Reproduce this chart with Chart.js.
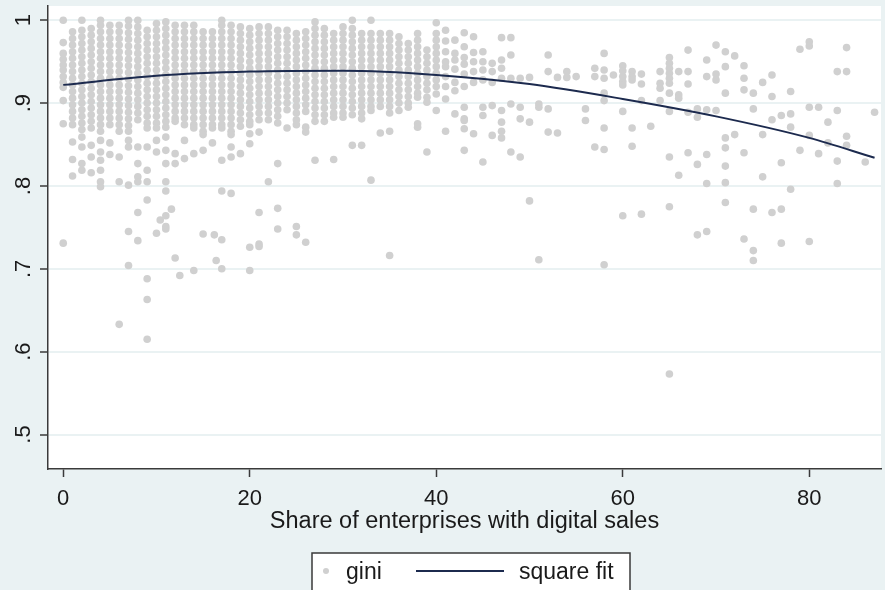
<!DOCTYPE html>
<html>
<head>
<meta charset="utf-8">
<script src="https://cdn.jsdelivr.net/npm/chart.js@4.4.1/dist/chart.umd.min.js"></script>
<style>
  html, body { margin: 0; padding: 0; background: #EAF2F3; }
  #chart { display: block; }
</style>
</head>
<body>
<canvas id="chart" width="885" height="590"></canvas>
<script>
// gini observations, grouped by share of enterprises with digital sales: [x, [gini...]]
const giniColumns = [
    [0, [1.0, 0.973, 0.960, 0.953, 0.946, 0.940, 0.932, 0.925, 0.919, 0.903, 0.875, 0.731]],
    [1, [0.986, 0.978, 0.970, 0.962, 0.954, 0.946, 0.938, 0.930, 0.922, 0.914, 0.906, 0.898, 0.890, 0.882, 0.874, 0.853, 0.832, 0.812]],
    [2, [1.0, 0.988, 0.980, 0.972, 0.964, 0.956, 0.948, 0.940, 0.932, 0.924, 0.916, 0.908, 0.900, 0.892, 0.884, 0.876, 0.868, 0.859, 0.847, 0.827, 0.819]],
    [3, [0.990, 0.982, 0.974, 0.966, 0.958, 0.950, 0.942, 0.934, 0.926, 0.918, 0.910, 0.902, 0.894, 0.886, 0.878, 0.870, 0.849, 0.835, 0.816]],
    [4, [1.0, 0.994, 0.986, 0.978, 0.970, 0.962, 0.954, 0.946, 0.938, 0.930, 0.922, 0.914, 0.906, 0.898, 0.890, 0.882, 0.874, 0.866, 0.855, 0.841, 0.831, 0.819, 0.805, 0.799]],
    [5, [0.994, 0.986, 0.978, 0.970, 0.962, 0.954, 0.946, 0.938, 0.930, 0.922, 0.914, 0.906, 0.898, 0.890, 0.882, 0.874, 0.852, 0.838]],
    [6, [0.994, 0.986, 0.978, 0.970, 0.962, 0.954, 0.946, 0.938, 0.930, 0.922, 0.914, 0.906, 0.898, 0.890, 0.882, 0.874, 0.866, 0.835, 0.805, 0.633]],
    [7, [1.0, 0.993, 0.985, 0.977, 0.969, 0.961, 0.953, 0.945, 0.937, 0.929, 0.921, 0.913, 0.905, 0.897, 0.889, 0.881, 0.873, 0.866, 0.855, 0.847, 0.801, 0.745, 0.704]],
    [8, [1.0, 0.992, 0.984, 0.976, 0.968, 0.960, 0.952, 0.944, 0.936, 0.928, 0.920, 0.912, 0.904, 0.896, 0.888, 0.880, 0.847, 0.827, 0.811, 0.805, 0.768, 0.734]],
    [9, [0.988, 0.980, 0.972, 0.964, 0.956, 0.948, 0.940, 0.932, 0.924, 0.916, 0.908, 0.900, 0.892, 0.884, 0.876, 0.870, 0.847, 0.819, 0.805, 0.783, 0.688, 0.663, 0.615]],
    [10, [0.996, 0.988, 0.980, 0.972, 0.964, 0.956, 0.948, 0.940, 0.932, 0.924, 0.916, 0.908, 0.900, 0.892, 0.884, 0.876, 0.870, 0.855, 0.841, 0.743]],
    [10.4, [0.759]],
    [11, [0.998, 0.990, 0.982, 0.974, 0.966, 0.958, 0.950, 0.942, 0.934, 0.926, 0.918, 0.910, 0.902, 0.894, 0.886, 0.878, 0.871, 0.859, 0.843, 0.827, 0.805, 0.794, 0.764, 0.751, 0.748]],
    [11.6, [0.772]],
    [12, [0.994, 0.986, 0.978, 0.970, 0.962, 0.954, 0.946, 0.938, 0.930, 0.922, 0.914, 0.906, 0.898, 0.890, 0.882, 0.878, 0.839, 0.827, 0.713]],
    [12.5, [0.692]],
    [13, [0.994, 0.986, 0.978, 0.970, 0.962, 0.954, 0.946, 0.938, 0.930, 0.922, 0.914, 0.906, 0.898, 0.890, 0.882, 0.874, 0.855, 0.833]],
    [14, [0.994, 0.986, 0.978, 0.970, 0.962, 0.954, 0.946, 0.938, 0.930, 0.922, 0.914, 0.906, 0.898, 0.890, 0.882, 0.874, 0.870, 0.839, 0.698]],
    [15, [0.986, 0.978, 0.970, 0.962, 0.954, 0.946, 0.938, 0.930, 0.922, 0.914, 0.906, 0.898, 0.890, 0.882, 0.874, 0.866, 0.862, 0.843, 0.742]],
    [16, [0.986, 0.978, 0.970, 0.962, 0.954, 0.946, 0.938, 0.930, 0.922, 0.914, 0.906, 0.898, 0.890, 0.882, 0.874, 0.870, 0.852]],
    [16.2, [0.741]],
    [16.4, [0.710]],
    [17, [1.0, 0.994, 0.986, 0.978, 0.970, 0.962, 0.954, 0.946, 0.938, 0.930, 0.922, 0.914, 0.906, 0.898, 0.890, 0.882, 0.874, 0.870, 0.831, 0.794, 0.735, 0.700]],
    [18, [0.994, 0.986, 0.978, 0.970, 0.962, 0.954, 0.946, 0.938, 0.930, 0.922, 0.914, 0.906, 0.898, 0.890, 0.882, 0.874, 0.866, 0.862, 0.847, 0.835, 0.791]],
    [19, [0.992, 0.984, 0.976, 0.968, 0.960, 0.952, 0.944, 0.936, 0.928, 0.920, 0.912, 0.904, 0.896, 0.888, 0.880, 0.872, 0.839]],
    [20, [0.990, 0.982, 0.974, 0.966, 0.958, 0.950, 0.942, 0.934, 0.926, 0.918, 0.910, 0.902, 0.894, 0.886, 0.878, 0.874, 0.863, 0.851, 0.726, 0.698]],
    [21, [0.992, 0.984, 0.976, 0.968, 0.960, 0.952, 0.944, 0.936, 0.928, 0.920, 0.912, 0.904, 0.896, 0.888, 0.880, 0.865, 0.768, 0.730, 0.727]],
    [22, [0.992, 0.984, 0.976, 0.968, 0.960, 0.952, 0.944, 0.936, 0.928, 0.920, 0.912, 0.904, 0.896, 0.888, 0.880, 0.805]],
    [23, [0.988, 0.980, 0.972, 0.964, 0.956, 0.948, 0.940, 0.932, 0.924, 0.916, 0.908, 0.900, 0.892, 0.884, 0.876, 0.827, 0.773, 0.748]],
    [24, [0.988, 0.980, 0.972, 0.964, 0.956, 0.948, 0.940, 0.932, 0.924, 0.916, 0.908, 0.900, 0.892, 0.870]],
    [25, [0.984, 0.976, 0.968, 0.960, 0.952, 0.944, 0.936, 0.928, 0.920, 0.912, 0.904, 0.896, 0.888, 0.880, 0.874, 0.751, 0.741]],
    [26, [0.986, 0.978, 0.970, 0.962, 0.954, 0.946, 0.938, 0.930, 0.922, 0.914, 0.906, 0.898, 0.890, 0.871, 0.865, 0.732]],
    [27, [0.998, 0.990, 0.982, 0.974, 0.966, 0.958, 0.950, 0.942, 0.934, 0.926, 0.918, 0.910, 0.902, 0.894, 0.886, 0.878, 0.831]],
    [28, [0.990, 0.982, 0.974, 0.966, 0.958, 0.950, 0.942, 0.934, 0.926, 0.918, 0.910, 0.902, 0.894, 0.886, 0.878]],
    [29, [0.984, 0.976, 0.968, 0.960, 0.952, 0.944, 0.936, 0.928, 0.920, 0.912, 0.904, 0.896, 0.888, 0.883, 0.832]],
    [30, [0.992, 0.984, 0.976, 0.968, 0.960, 0.952, 0.944, 0.936, 0.928, 0.920, 0.912, 0.904, 0.896, 0.888, 0.883]],
    [31, [1.0, 0.990, 0.982, 0.974, 0.966, 0.958, 0.950, 0.942, 0.934, 0.926, 0.918, 0.910, 0.902, 0.894, 0.886, 0.849]],
    [32, [0.984, 0.976, 0.968, 0.960, 0.952, 0.944, 0.936, 0.928, 0.920, 0.912, 0.904, 0.896, 0.888, 0.881, 0.849]],
    [33, [1.0, 0.984, 0.976, 0.968, 0.960, 0.952, 0.944, 0.936, 0.928, 0.920, 0.912, 0.904, 0.896, 0.891, 0.807]],
    [34, [0.984, 0.976, 0.968, 0.960, 0.952, 0.944, 0.936, 0.928, 0.920, 0.912, 0.904, 0.896, 0.864]],
    [35, [0.984, 0.976, 0.968, 0.960, 0.952, 0.944, 0.936, 0.928, 0.920, 0.912, 0.904, 0.896, 0.888, 0.866, 0.716]],
    [36, [0.980, 0.972, 0.964, 0.956, 0.948, 0.940, 0.932, 0.924, 0.916, 0.908, 0.900, 0.891]],
    [37, [0.972, 0.964, 0.956, 0.948, 0.940, 0.932, 0.924, 0.916, 0.908, 0.900, 0.895]],
    [38, [0.984, 0.976, 0.968, 0.960, 0.952, 0.944, 0.936, 0.928, 0.920, 0.912, 0.907, 0.875, 0.871]],
    [39, [0.964, 0.956, 0.948, 0.940, 0.932, 0.924, 0.916, 0.907, 0.901, 0.841]],
    [40, [0.997, 0.984, 0.976, 0.968, 0.960, 0.952, 0.944, 0.936, 0.928, 0.920, 0.911, 0.891]],
    [41, [0.988, 0.975, 0.962, 0.950, 0.944, 0.932, 0.920, 0.905, 0.866]],
    [42, [0.976, 0.960, 0.952, 0.941, 0.925, 0.915, 0.887]],
    [43, [0.985, 0.968, 0.955, 0.947, 0.935, 0.920, 0.895, 0.881, 0.879, 0.869, 0.843]],
    [44, [0.980, 0.961, 0.950, 0.938, 0.925, 0.863]],
    [45, [0.962, 0.950, 0.940, 0.928, 0.895, 0.885, 0.829]],
    [46, [0.948, 0.938, 0.925, 0.897, 0.861]],
    [47, [0.979, 0.952, 0.942, 0.930, 0.891, 0.877, 0.866, 0.858]],
    [48, [0.979, 0.958, 0.930, 0.899, 0.841]],
    [49, [0.930, 0.895, 0.881, 0.835]],
    [50, [0.931, 0.877, 0.782]],
    [51, [0.899, 0.895, 0.711]],
    [52, [0.958, 0.938, 0.893, 0.865]],
    [53, [0.931, 0.864]],
    [54, [0.938, 0.931]],
    [55, [0.932]],
    [56, [0.893, 0.879]],
    [57, [0.942, 0.932, 0.847]],
    [58, [0.960, 0.940, 0.930, 0.912, 0.903, 0.870, 0.844, 0.705]],
    [59, [0.934]],
    [60, [0.945, 0.939, 0.932, 0.926, 0.922, 0.890, 0.764]],
    [61, [0.938, 0.932, 0.928, 0.870, 0.848]],
    [62, [0.935, 0.923, 0.903, 0.766]],
    [63, [0.872]],
    [64, [0.938, 0.924, 0.918, 0.903]],
    [65, [0.955, 0.948, 0.942, 0.936, 0.930, 0.924, 0.912, 0.890, 0.835, 0.775, 0.573]],
    [66, [0.938, 0.910, 0.906, 0.813]],
    [67, [0.964, 0.938, 0.923, 0.889, 0.840]],
    [68, [0.893, 0.883, 0.826, 0.741]],
    [69, [0.952, 0.932, 0.892, 0.838, 0.803, 0.745]],
    [70, [0.970, 0.935, 0.928, 0.891]],
    [71, [0.962, 0.944, 0.912, 0.858, 0.846, 0.824, 0.804, 0.780]],
    [72, [0.957, 0.862]],
    [73, [0.945, 0.930, 0.916, 0.840, 0.736]],
    [74, [0.912, 0.893, 0.772, 0.722, 0.710]],
    [75, [0.925, 0.862, 0.811]],
    [76, [0.934, 0.908, 0.880, 0.768]],
    [77, [0.885, 0.828, 0.772, 0.731]],
    [78, [0.914, 0.887, 0.871, 0.796]],
    [79, [0.965, 0.843]],
    [80, [0.974, 0.969, 0.895, 0.861, 0.733]],
    [81, [0.895, 0.839]],
    [82, [0.877, 0.852]],
    [83, [0.938, 0.891, 0.830, 0.803]],
    [84, [0.967, 0.938, 0.860, 0.849]],
    [86, [0.829]],
    [87, [0.889]]
];

// quadratic fit
const fitX = [0, 10, 20, 30, 40, 50, 60, 70, 80, 87];
const fitY = [0.922, 0.933, 0.938, 0.939, 0.934, 0.923, 0.905, 0.884, 0.858, 0.834];

const xTicks = [0, 20, 40, 60, 80];
const yTicks = [0.5, 0.6, 0.7, 0.8, 0.9, 1];
const yTickLabels = ['.5', '.6', '.7', '.8', '.9', '1'];

const xTitle = 'Share of enterprises with digital sales';
const legendLabels = ['gini', 'square fit'];

const FONT = "'Liberation Sans', Arial, sans-serif";
const BG = '#EAF2F3';
const INK = '#1a1a1a';
const AXIS = '#3a3a3a';

const giniPoints = giniColumns.flatMap(([x, ys]) => ys.map(y => ({ x: x, y: y })));
const fitPoints = fitX.map((x, i) => ({ x: x, y: fitY[i] }));

// background, white plot region, rotated y labels and boxed legend
const stataLook = {
    id: 'stataLook',
    beforeDraw(chart) {
        const { ctx, chartArea } = chart;
        ctx.save();
        ctx.fillStyle = BG;
        ctx.fillRect(0, 0, chart.width, chart.height);
        ctx.fillStyle = '#ffffff';
        ctx.fillRect(chartArea.left, chartArea.top, chartArea.right - chartArea.left, chartArea.bottom - chartArea.top);
        ctx.restore();
    },
    afterDraw(chart) {
        const { ctx } = chart;
        const yScale = chart.scales.y;

        ctx.save();
        ctx.fillStyle = INK;
        ctx.font = '22px ' + FONT;
        ctx.textAlign = 'center';
        ctx.textBaseline = 'alphabetic';
        yTicks.forEach((v, i) => {
            const py = yScale.getPixelForValue(v);
            ctx.save();
            ctx.translate(30, py);
            ctx.rotate(-Math.PI / 2);
            ctx.fillText(yTickLabels[i], 0, 0);
            ctx.restore();
        });
        ctx.restore();

        // legend box
        const scatterDs = chart.data.datasets[1];
        const lineDs = chart.data.datasets[0];
        const bx = 312, by = 553, bw = 318, bh = 50;
        const cy = 571;
        ctx.save();
        ctx.fillStyle = '#ffffff';
        ctx.fillRect(bx, by, bw, bh);
        ctx.strokeStyle = AXIS;
        ctx.lineWidth = 1.5;
        ctx.strokeRect(bx, by, bw, bh);

        ctx.fillStyle = scatterDs.backgroundColor;
        ctx.beginPath();
        ctx.arc(326, cy, 3, 0, Math.PI * 2);
        ctx.fill();

        ctx.strokeStyle = lineDs.borderColor;
        ctx.lineWidth = lineDs.borderWidth;
        ctx.beginPath();
        ctx.moveTo(416, cy);
        ctx.lineTo(504, cy);
        ctx.stroke();

        ctx.fillStyle = INK;
        ctx.font = '23px ' + FONT;
        ctx.textAlign = 'left';
        ctx.textBaseline = 'alphabetic';
        ctx.fillText(legendLabels[0], 346, 579);
        ctx.fillText(legendLabels[1], 519, 579);
        ctx.restore();
    }
};

new Chart(document.getElementById('chart'), {
    type: 'scatter',
    data: {
        datasets: [
            {
                type: 'line',
                label: legendLabels[1],
                data: fitPoints,
                borderColor: '#1c2a4e',
                borderWidth: 2,
                pointRadius: 0,
                fill: false,
                cubicInterpolationMode: 'monotone',
                order: 0
            },
            {
                label: legendLabels[0],
                data: giniPoints,
                backgroundColor: '#d0d0d0',
                borderWidth: 0,
                pointRadius: 3.8,
                order: 1
            }
        ]
    },
    options: {
        responsive: false,
        animation: false,
        devicePixelRatio: 1,
        layout: { padding: { top: 6, left: 0, right: 0, bottom: 0 } },
        plugins: {
            legend: { display: false },
            tooltip: { enabled: false }
        },
        scales: {
            x: {
                type: 'linear',
                min: -1.633,
                max: 87.69,
                afterBuildTicks: (scale) => { scale.ticks = xTicks.map(v => ({ value: v })); },
                afterFit: (scale) => { scale.height = 121; },
                ticks: {
                    color: INK,
                    font: { family: FONT, size: 22 },
                    padding: 9,
                    maxRotation: 0
                },
                grid: {
                    drawOnChartArea: false,
                    drawTicks: true,
                    tickLength: 8,
                    tickColor: AXIS,
                    tickWidth: 1.5
                },
                border: { display: true, color: AXIS, width: 1.5 },
                title: {
                    display: true,
                    text: xTitle,
                    color: INK,
                    font: { family: FONT, size: 23.5 },
                    padding: { top: 0, bottom: 54 }
                }
            },
            y: {
                type: 'linear',
                min: 0.4584,
                max: 1.0172,
                afterBuildTicks: (scale) => { scale.ticks = yTicks.map(v => ({ value: v })); },
                afterFit: (scale) => { scale.width = 48; },
                ticks: { display: false },
                grid: {
                    color: BG,
                    lineWidth: 2,
                    drawTicks: true,
                    tickLength: 8,
                    tickColor: AXIS,
                    tickWidth: 1.5
                },
                border: { display: true, color: AXIS, width: 1.5 }
            }
        }
    },
    plugins: [stataLook]
});
</script>
</body>
</html>
